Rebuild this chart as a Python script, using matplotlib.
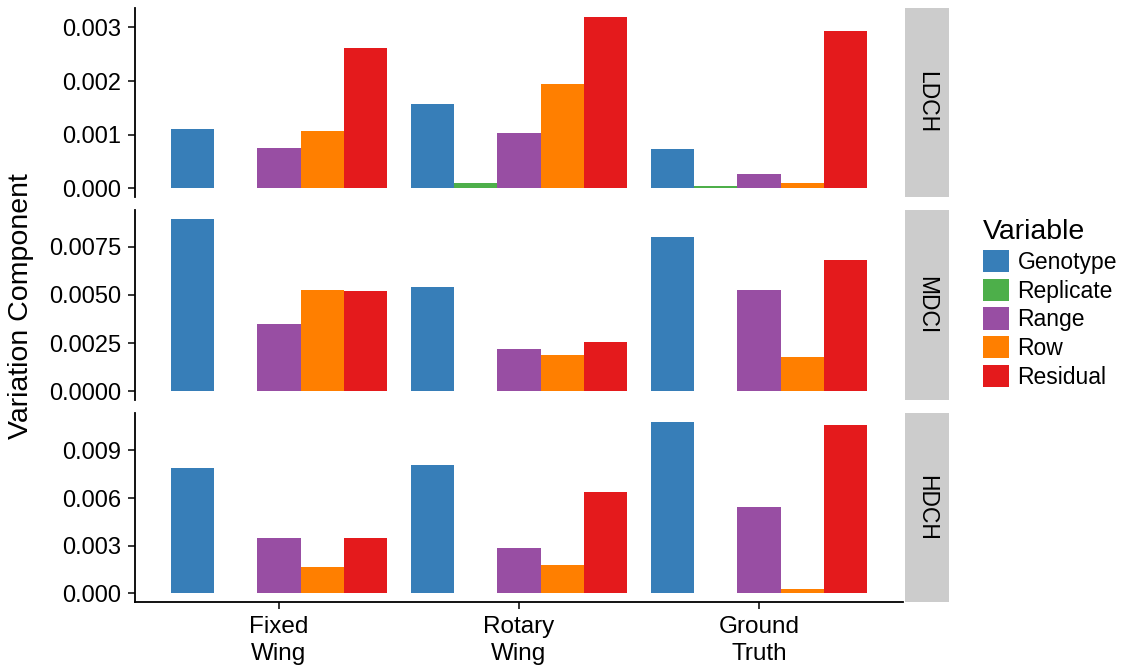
import numpy as np
import matplotlib
matplotlib.use('Agg')
from matplotlib import pyplot as plt
from matplotlib.patches import Patch, Rectangle

plt.rcParams['font.family'] = ['Liberation Sans', 'DejaVu Sans']

platforms = ['Fixed\nWing', 'Rotary\nWing', 'Ground\nTruth']
variables = ['Genotype', 'Replicate', 'Range', 'Row', 'Residual']
colors = ['#377EB8', '#4DAF4A', '#984EA3', '#FF7F00', '#E41A1C']
traits = ['LDCH', 'MDCI', 'HDCH']

# values per trait: rows = platform, cols = variable
ldch = [[0.00111, 0.0, 0.000745, 0.00106, 0.00261],
        [0.00158, 0.00011, 0.00104, 0.00194, 0.00320],
        [0.00074, 0.00005, 0.00026, 0.00011, 0.00294]]
mdci = [[0.00896, 0.0, 0.00349, 0.00526, 0.00521],
        [0.00542, 0.0, 0.00219, 0.00188, 0.00255],
        [0.00802, 0.0, 0.00526, 0.00177, 0.00682]]
hdch = [[0.00792, 0.0, 0.00352, 0.00164, 0.00346],
        [0.00811, 0.00001, 0.00283, 0.00182, 0.00641],
        [0.01082, 0.0, 0.00541, 0.00025, 0.01063]]
values = [ldch, mdci, hdch]

yticks = [[0.0, 0.001, 0.002, 0.003],
          [0.0, 0.0025, 0.005, 0.0075],
          [0.0, 0.003, 0.006, 0.009]]
yfmt = ['{:.3f}', '{:.4f}', '{:.3f}']

W, H = 1130, 670
fig = plt.figure(figsize=(W/100, H/100), dpi=100)

left, right = 135, 903
panels = [(8, 197), (210, 400), (413, 602)]
nv = len(variables)
bw = 0.9 / nv
xpos = np.arange(1, len(platforms) + 1)

for k, (top, bot) in enumerate(panels):
    ax = fig.add_axes([left/W, 1 - bot/H, (right-left)/W, (bot-top)/H])
    data = np.array(values[k])
    for j in range(nv):
        ax.bar(xpos - 0.45 + bw*(j + 0.5), data[:, j], width=bw,
               color=colors[j], linewidth=0)
    ymax = data.max()
    ax.set_ylim(-0.05*ymax, 1.05*ymax)
    ax.set_xlim(0.4, 3.6)
    ax.set_yticks(yticks[k])
    ax.set_yticklabels([yfmt[k].format(v) for v in yticks[k]])
    ax.tick_params(axis='y', labelsize=17, length=5, width=1.1, colors='black', pad=5)
    for s in ['top', 'right']:
        ax.spines[s].set_visible(False)
    ax.spines['left'].set_linewidth(1.3)
    if k < 2:
        ax.spines['bottom'].set_visible(False)
        ax.set_xticks([])
    else:
        ax.spines['bottom'].set_linewidth(1.3)
        ax.set_xticks(xpos)
        ax.set_xticklabels(platforms, fontsize=17.5, linespacing=1.3)
        ax.tick_params(axis='x', length=5, width=1.1, pad=5)
    # facet strip
    fig.patches.append(Rectangle(((right+2)/W, 1 - bot/H), 44/W, (bot-top)/H,
                                 transform=fig.transFigure, facecolor='#CCCCCC',
                                 edgecolor='none'))
    fig.text((right+24)/W, 1 - (top+bot)/2/H, traits[k], rotation=-90,
             ha='center', va='center', fontsize=16.5)

fig.text(21/W, 1 - 306/H, 'Variation Component', rotation=90,
         ha='center', va='center', fontsize=20.5)

handles = [Patch(facecolor=c, edgecolor='none') for c in colors]
leg = fig.legend(handles, variables, loc='upper left',
                 bbox_to_anchor=(967/W, 1 - 203/H), frameon=False,
                 title='Variable', fontsize=16.5, title_fontsize=20.5,
                 handlelength=1.15, handleheight=1.12, labelspacing=0.21,
                 handletextpad=0.35, borderpad=0.2, alignment='left')

fig.savefig('out.png', dpi=100)
